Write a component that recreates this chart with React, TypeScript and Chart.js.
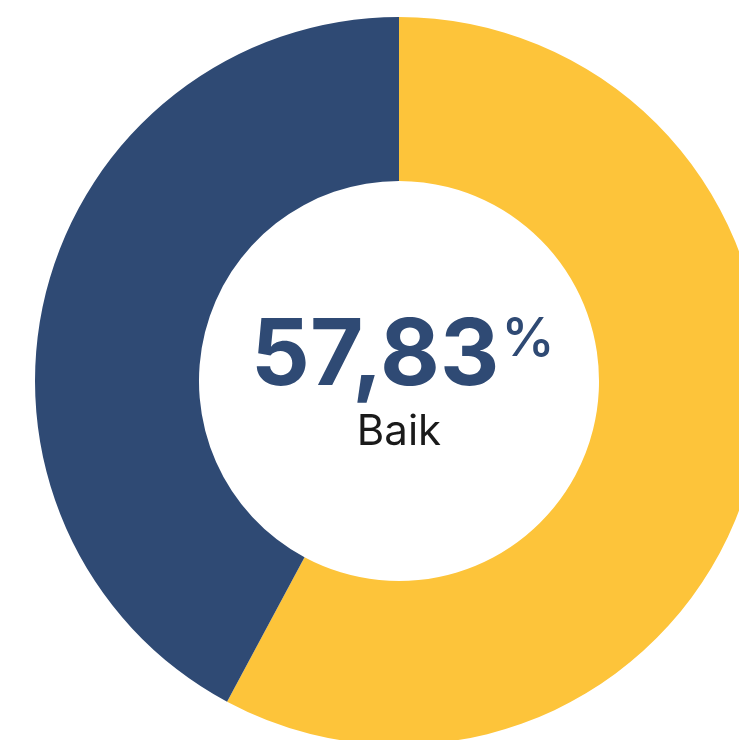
import React, { useEffect, useRef } from "react";
import { Chart, registerables } from "chart.js";

Chart.register(...registerables);

const labels = ["Baik", "Lainnya"];
const values = [57.83, 42.17];
const colors = ["#FDC43A", "#2F4A74"];
const centerLabel = "Baik";

const centerTextPlugin = {
  id: "centerText",
  afterDraw(chart: any) {
    const { ctx, chartArea } = chart;
    const cx = (chartArea.left + chartArea.right) / 2;
    const cy = (chartArea.top + chartArea.bottom) / 2;
    const numText = values[0].toFixed(2).replace(".", ",");
    ctx.save();
    ctx.textBaseline = "alphabetic";
    ctx.textAlign = "left";
    const numFont = "700 92px Inter";
    const pctFont = "500 54px Inter";
    ctx.font = numFont;
    const w1 = ctx.measureText(numText).width;
    ctx.font = pctFont;
    const w2 = ctx.measureText("%").width;
    const gap = 2;
    const total = w1 + gap + w2;
    const x0 = cx + 4 - total / 2;
    ctx.fillStyle = "#2F4A74";
    ctx.font = numFont;
    ctx.fillText(numText, x0, cy + 4);
    ctx.font = pctFont;
    ctx.fillText("%", x0 + w1 + gap, cy - 25);
    ctx.fillStyle = "#1a1a1a";
    ctx.font = "400 42px Inter";
    ctx.textAlign = "center";
    ctx.fillText(centerLabel, cx, cy + 64);
    ctx.restore();
  },
};

export default function App() {
  const ref = useRef<HTMLCanvasElement>(null);
  useEffect(() => {
    if (!ref.current) return;
    const chart = new Chart(ref.current, {
      type: "doughnut",
      data: {
        labels,
        datasets: [
          {
            data: values,
            backgroundColor: colors,
            borderWidth: 0,
          },
        ],
      },
      options: {
        responsive: false,
        animation: false,
        radius: 364,
        cutout: "54.95%",
        layout: { padding: 0 },
        plugins: {
          legend: { display: false },
          tooltip: { enabled: false },
        },
      } as any,
      plugins: [centerTextPlugin],
    });
    return () => chart.destroy();
  }, []);
  return (
    <div style={{ position: "fixed", left: 0, top: 0, width: "100vw", height: "100vh", overflow: "hidden" }}>
      <canvas
        ref={ref}
        width={782}
        height={746}
        style={{ position: "absolute", left: 8, top: 8, display: "block", width: 782, height: 746 }}
      />
    </div>
  );
}
